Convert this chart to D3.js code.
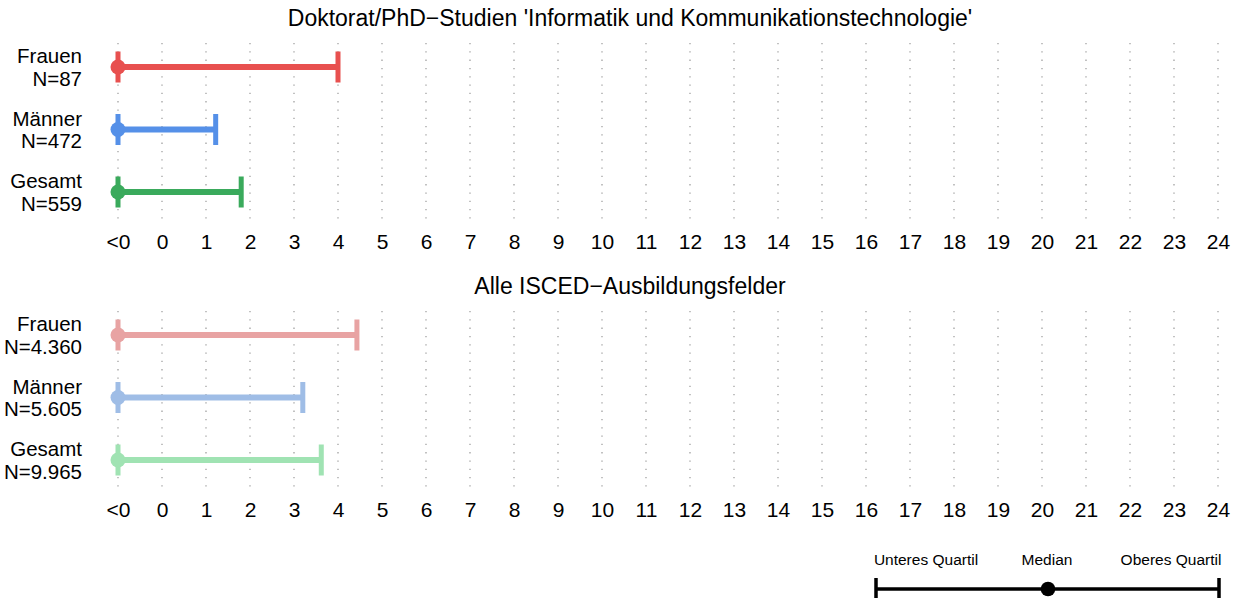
<!DOCTYPE html>
<html>
<head>
<meta charset="utf-8">
<script src="https://cdn.jsdelivr.net/npm/d3@7"></script>
<style>
  body { margin: 0; background: #fff; }
  text { font-family: "Liberation Sans", Arial, sans-serif; fill: #000; }
</style>
</head>
<body>
<div id="chart"></div>
<script>
// groups and labels
var groups = ["Frauen", "Männer", "Gesamt"];
var nTop = ["N=87", "N=472", "N=559"];
var nAll = ["N=4.360", "N=5.605", "N=9.965"];

// quartiles (-1 stands for "<0")
var lowTop = [-1, -1, -1];
var medTop = [-1, -1, -1];
var upTop = [4.0, 1.22, 1.8];
var lowAll = [-1, -1, -1];
var medAll = [-1, -1, -1];
var upAll = [4.43, 3.2, 3.62];

var titles = ["Doktorat/PhD\u2212Studien 'Informatik und Kommunikationstechnologie'",
              "Alle ISCED\u2212Ausbildungsfelder"];
var tickValues = [-1, 0, 1, 2, 3, 4, 5, 6, 7, 8, 9, 10, 11, 12, 13, 14, 15, 16, 17, 18, 19, 20, 21, 22, 23, 24];
var tickLabels = ["<0", "0", "1", "2", "3", "4", "5", "6", "7", "8", "9", "10", "11", "12",
                  "13", "14", "15", "16", "17", "18", "19", "20", "21", "22", "23", "24"];
var legendLabels = ["Unteres Quartil", "Median", "Oberes Quartil"];

var colorsTop = ["#e8504f", "#5590e8", "#3aaa5c"];
var colorsAll = ["#e8a3a3", "#9fbde6", "#a0e3b3"];

var w = 1244, h = 598;
var svg = d3.select("#chart").append("svg")
    .attr("width", w)
    .attr("height", h);

var x = d3.scaleLinear().domain([-1, 24]).range([118, 1218]);

function panel(top, title, ns, low, med, up, colors) {
  var g = svg.append("g").attr("transform", "translate(0," + top + ")");
  var y = d3.scalePoint().domain(groups).range([25, 150]);

  // title
  g.append("text")
    .attr("x", 630)
    .attr("y", -16)
    .attr("text-anchor", "middle")
    .attr("font-size", "23px")
    .text(title);

  // dotted grid
  g.selectAll(".grid")
    .data(tickValues)
    .enter().append("line")
      .attr("x1", function(d) { return x(d); })
      .attr("x2", function(d) { return x(d); })
      .attr("y1", 1)
      .attr("y2", 180)
      .attr("stroke", "#999")
      .attr("stroke-width", 1.2)
      .attr("stroke-dasharray", "1.3,7");

  // axis labels
  var axis = d3.axisBottom(x)
    .tickValues(tickValues)
    .tickFormat(function(d, i) { return tickLabels[i]; })
    .tickSize(0)
    .tickPadding(0);
  var ax = g.append("g")
    .attr("transform", "translate(0,207)")
    .call(axis);
  ax.select(".domain").remove();
  ax.selectAll("text")
    .attr("font-size", "21px")
    .attr("font-family", "Liberation Sans, Arial, sans-serif")
    .attr("fill", "#000")
    .attr("y", 0)
    .attr("dy", 0);

  // group labels
  var lab = g.selectAll(".lab")
    .data(groups)
    .enter().append("text")
      .attr("text-anchor", "end")
      .attr("font-size", "20.5px")
      .attr("x", 82)
      .attr("y", function(d) { return y(d); });
  lab.append("tspan").attr("x", 82).attr("dy", "-0.18em").text(function(d) { return d; });
  lab.append("tspan").attr("x", 82).attr("dy", "1.09em").text(function(d, i) { return ns[i]; });

  // range lines
  groups.forEach(function(grp, i) {
    var cy = y(grp);
    g.append("line")
      .attr("x1", x(low[i])).attr("x2", x(up[i]))
      .attr("y1", cy).attr("y2", cy)
      .attr("stroke", colors[i])
      .attr("stroke-width", 6);
    [low[i], up[i]].forEach(function(v) {
      g.append("rect")
        .attr("x", x(v) - 2.5)
        .attr("y", cy - 15.5)
        .attr("width", 5)
        .attr("height", 31)
        .attr("fill", colors[i]);
    });
    g.append("circle")
      .attr("cx", x(med[i]))
      .attr("cy", cy)
      .attr("r", 7.5)
      .attr("fill", colors[i]);
  });
}

panel(42, titles[0], nTop, lowTop, medTop, upTop, colorsTop);
panel(310, titles[1], nAll, lowAll, medAll, upAll, colorsAll);

// legend
var lx = d3.scalePoint().domain(legendLabels).range([876, 1219]);
var leg = svg.append("g");
leg.append("line")
  .attr("x1", lx(legendLabels[0])).attr("x2", lx(legendLabels[2]))
  .attr("y1", 589).attr("y2", 589)
  .attr("stroke", "#000").attr("stroke-width", 3.5);
[legendLabels[0], legendLabels[2]].forEach(function(d) {
  leg.append("rect")
    .attr("x", lx(d) - 1.75).attr("y", 578)
    .attr("width", 3.5).attr("height", 22)
    .attr("fill", "#000");
});
leg.append("circle")
  .attr("cx", 1048).attr("cy", 589).attr("r", 7.3).attr("fill", "#000");
leg.selectAll(".lt")
  .data(legendLabels)
  .enter().append("text")
    .attr("x", function(d, i) { return [926, 1047, 1171][i]; })
    .attr("y", 565)
    .attr("text-anchor", "middle")
    .attr("font-size", "15.5px")
    .text(function(d) { return d; });
</script>
</body>
</html>
